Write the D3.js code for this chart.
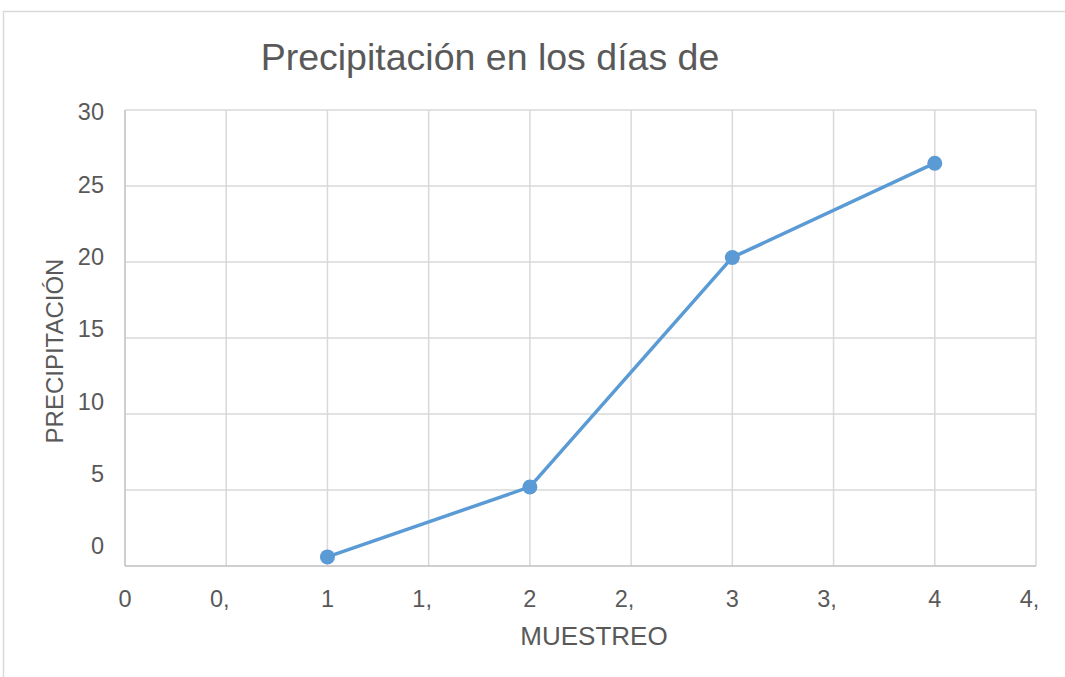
<!DOCTYPE html>
<html>
<head>
<meta charset="utf-8">
<script src="https://cdn.jsdelivr.net/npm/d3@7"></script>
<style>
  html, body { margin: 0; padding: 0; background: #fff; }
  svg { display: block; font-family: "Liberation Sans", Arial, sans-serif; }
</style>
</head>
<body>
<svg id="chart" width="1065" height="677"></svg>
<script>
// Rainfall per sampling day
const muestreo = [1, 2, 3, 4];
const precipitacion = [0.6, 5.2, 20.3, 26.5];

// Axis ticks and their printed labels
const xTicks = [0, 0.5, 1, 1.5, 2, 2.5, 3, 3.5, 4, 4.5];
const xTickLabels = ["0", "0,5", "1", "1,5", "2", "2,5", "3", "3,5", "4", "4,5"];
const yTicks = [0, 5, 10, 15, 20, 25, 30];

const title = "Precipitación en los días de";
const xTitle = "MUESTREO";
const yTitle = "PRECIPITACIÓN";

const W = 1065, H = 677;
const plot = { left: 125, right: 1036, top: 110, bottom: 566 };

const svg = d3.select("#chart");
const textColor = "#595959";
const gridColor = "#d9d9d9";
const axisColor = "#bfbfbf";
const lineColor = "#5b9bd5";
const tickSize = 23.5;

const x = d3.scaleLinear().domain([0, 4.5]).range([plot.left, plot.right]);
const y = d3.scaleLinear().domain([0, 30]).range([plot.bottom, plot.top]);
// value labels on the vertical axis sit on a slightly tighter spacing than the grid
const yLabel = d3.scaleLinear().domain([0, 30]).range([546, 112]);

// outer chart frame
svg.append("rect")
  .attr("x", 3.5).attr("y", 11.5)
  .attr("width", W + 10).attr("height", H + 10)
  .attr("fill", "none").attr("stroke", gridColor).attr("stroke-width", 1.5);

// grid
const grid = svg.append("g");
grid.selectAll("line.h").data(yTicks.filter(d => d > 0)).join("line")
  .attr("x1", plot.left).attr("x2", plot.right)
  .attr("y1", d => y(d)).attr("y2", d => y(d))
  .attr("stroke", gridColor).attr("stroke-width", 1.5);
grid.selectAll("line.v").data(xTicks.filter(d => d > 0)).join("line")
  .attr("y1", plot.top).attr("y2", plot.bottom)
  .attr("x1", d => x(d)).attr("x2", d => x(d))
  .attr("stroke", gridColor).attr("stroke-width", 1.5);

// axis lines
svg.append("line")
  .attr("x1", plot.left).attr("x2", plot.left)
  .attr("y1", plot.top).attr("y2", plot.bottom)
  .attr("stroke", axisColor).attr("stroke-width", 1.5);
svg.append("line")
  .attr("x1", plot.left).attr("x2", plot.right)
  .attr("y1", plot.bottom).attr("y2", plot.bottom)
  .attr("stroke", axisColor).attr("stroke-width", 1.5);

// y tick labels
svg.append("g").selectAll("text").data(yTicks).join("text")
  .attr("x", 104).attr("y", d => yLabel(d)).attr("dy", "0.36em")
  .attr("text-anchor", "end")
  .attr("font-size", tickSize).attr("fill", textColor)
  .text(d => d);

// x tick labels: the decimals are cut off after the comma, the visible part
// keeps the position of the full label centred on its tick
const xl = svg.append("g");
xTicks.forEach((t, i) => {
  const full = xTickLabels[i];
  const shown = full.includes(",") ? full.slice(0, full.indexOf(",") + 1) : full;
  const probe = xl.append("text").attr("font-size", tickSize).text(full);
  const fullW = probe.node().getComputedTextLength();
  probe.remove();
  xl.append("text")
    .attr("x", x(t) - fullW / 2).attr("y", 606.5)
    .attr("text-anchor", "start")
    .attr("font-size", tickSize).attr("fill", textColor)
    .text(shown);
});

// line and markers
const line = d3.line().x((d, i) => x(muestreo[i])).y(d => y(d));
svg.append("path").datum(precipitacion)
  .attr("d", line)
  .attr("fill", "none").attr("stroke", lineColor)
  .attr("stroke-width", 3.5).attr("stroke-linejoin", "round");
svg.append("g").selectAll("circle").data(precipitacion).join("circle")
  .attr("cx", (d, i) => x(muestreo[i])).attr("cy", d => y(d))
  .attr("r", 7.5).attr("fill", lineColor);

// titles
svg.append("text")
  .attr("x", 490).attr("y", 70).attr("text-anchor", "middle")
  .attr("font-size", 37.5).attr("fill", textColor)
  .text(title);
svg.append("text")
  .attr("x", 594).attr("y", 645).attr("text-anchor", "middle")
  .attr("font-size", 26).attr("fill", textColor)
  .text(xTitle);
svg.append("text")
  .attr("transform", "translate(63,351) rotate(-90)")
  .attr("text-anchor", "middle")
  .attr("font-size", 24).attr("fill", textColor)
  .text(yTitle);
</script>
</body>
</html>
